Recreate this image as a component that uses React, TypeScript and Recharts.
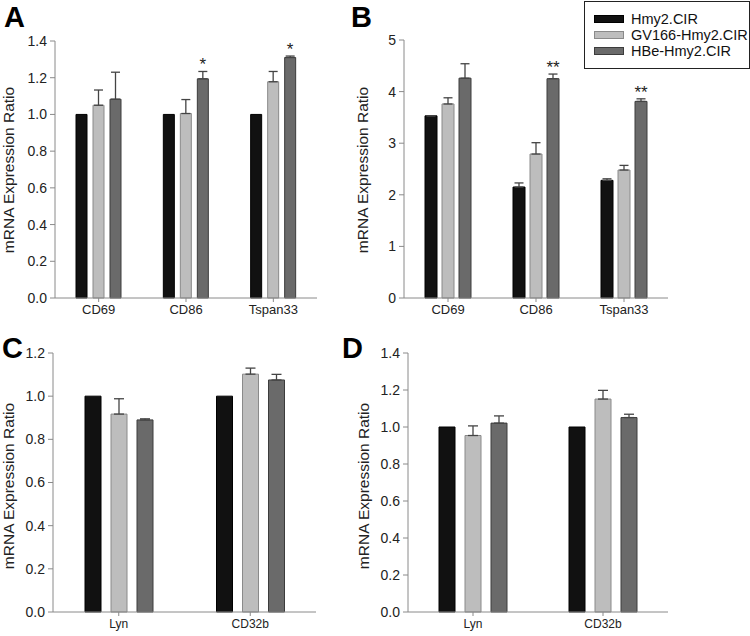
import React from 'react';
import { BarChart, Bar, XAxis, YAxis, ErrorBar, LabelList, Legend } from 'recharts';

const seriesNames = ['Hmy2.CIR', 'GV166-Hmy2.CIR', 'HBe-Hmy2.CIR'];
const fills = ['#111111', '#bdbdbd', '#6a6a6a'];
const strokes = ['#000000', '#8a8a8a', '#3c3c3c'];

// panel A
const genesA = ['CD69', 'CD86', 'Tspan33'];
const ctrlA = [1.0, 1.0, 1.0];
const gvA = [1.05, 1.005, 1.178];
const gvErrA = [0.083, 0.076, 0.056];
const hbeA = [1.083, 1.194, 1.31];
const hbeErrA = [0.147, 0.04, 0.008];
const starsA = ['', '*', '*'];
const ticksA = [0, 0.2, 0.4, 0.6, 0.8, 1.0, 1.2, 1.4];

// panel B
const genesB = ['CD69', 'CD86', 'Tspan33'];
const ctrlB = [3.53, 2.15, 2.28];
const ctrlErrB = [0, 0.08, 0.03];
const gvB = [3.76, 2.79, 2.48];
const gvErrB = [0.12, 0.22, 0.09];
const hbeB = [4.26, 4.25, 3.81];
const hbeErrB = [0.28, 0.09, 0.05];
const starsB = ['', '**', '**'];
const ticksB = [0, 1, 2, 3, 4, 5];

// panel C
const genesC = ['Lyn', 'CD32b'];
const ctrlC = [1.0, 1.0];
const gvC = [0.917, 1.102];
const gvErrC = [0.071, 0.028];
const hbeC = [0.89, 1.075];
const hbeErrC = [0.005, 0.026];
const ticksC = [0, 0.2, 0.4, 0.6, 0.8, 1.0, 1.2];

// panel D
const genesD = ['Lyn', 'CD32b'];
const ctrlD = [1.0, 1.0];
const gvD = [0.954, 1.151];
const gvErrD = [0.052, 0.047];
const hbeD = [1.021, 1.051];
const hbeErrD = [0.039, 0.018];
const ticksD = [0, 0.2, 0.4, 0.6, 0.8, 1.0, 1.2, 1.4];

type Row = {
  gene: string;
  ctrl: number;
  ctrlErr: number[];
  gv: number;
  gvErr: number[];
  hbe: number;
  hbeErr: number[];
  star: string;
};

const makeRows = (
  genes: string[],
  ctrl: number[],
  gv: number[],
  gvErr: number[],
  hbe: number[],
  hbeErr: number[],
  stars?: string[],
  ctrlErr?: number[]
): Row[] =>
  genes.map((g, i) => ({
    gene: g,
    ctrl: ctrl[i],
    ctrlErr: [0, ctrlErr ? ctrlErr[i] : 0],
    gv: gv[i],
    gvErr: [0, gvErr[i]],
    hbe: hbe[i],
    hbeErr: [0, hbeErr[i]],
    star: stars ? stars[i] : '',
  }));

const rowsA = makeRows(genesA, ctrlA, gvA, gvErrA, hbeA, hbeErrA, starsA);
const rowsB = makeRows(genesB, ctrlB, gvB, gvErrB, hbeB, hbeErrB, starsB, ctrlErrB);
const rowsC = makeRows(genesC, ctrlC, gvC, gvErrC, hbeC, hbeErrC);
const rowsD = makeRows(genesD, ctrlD, gvD, gvErrD, hbeD, hbeErrD);

const FONT = '"Liberation Sans", Arial, Helvetica, sans-serif';
const AXIS = '#8a8a8a';

// stars sit just above the error bar cap of the HBe bar
const starLabel = (rows: Row[]) => (props: any) => {
  const vb = props.viewBox || props;
  const x = props.x ?? vb.x;
  const y = props.y ?? vb.y;
  const width = props.width ?? vb.width;
  const height = props.height ?? vb.height;
  const r = rows[props.index];
  if (!r || !r.star) return null;
  const px = height / r.hbe;
  const top = y - r.hbeErr[1] * px;
  return (
    <text x={x + width / 2} y={top - 1} textAnchor="middle" fontSize={17} fill="#222" fontFamily={FONT}>
      {r.star}
    </text>
  );
};

const renderLegend = () => (
  <div
    style={{
      position: 'relative',
      width: 166,
      height: 68,
      border: '1px solid #222',
      boxSizing: 'border-box',
      background: '#fff',
      fontFamily: FONT,
    }}
  >
    {seriesNames.map((name, i) => (
      <div
        key={name}
        style={{ position: 'absolute', left: 9, top: 9 + i * 16, height: 16, display: 'flex', alignItems: 'center' }}
      >
        <span
          style={{
            display: 'inline-block',
            width: 30,
            height: 8,
            background: fills[i],
            border: `1px solid ${strokes[i]}`,
            boxSizing: 'border-box',
          }}
        />
        <span style={{ marginLeft: 7, fontSize: 14.5, color: '#111', whiteSpace: 'nowrap' }}>{name}</span>
      </div>
    ))}
  </div>
);

type PanelProps = {
  rows: Row[];
  box: { x0: number; x1: number; y0: number; y1: number };
  top: number;
  ticks: number[];
  digits: number;
  barSize: number;
  barGap: number;
  capW: number;
  tickFont: number;
  ctrlError?: boolean;
  legend?: boolean;
};

const Panel = ({ rows, box, top, ticks, digits, barSize, barGap, capW, tickFont, ctrlError, legend }: PanelProps) => {
  const yw = 50;
  const xh = 28;
  const left = box.x0 - yw;
  const width = box.x1 - left + 2;
  const mt = box.y0 - top;
  const height = box.y1 + xh - top;
  return (
    <div style={{ position: 'absolute', left, top }}>
      <BarChart
        width={width}
        height={height}
        data={rows}
        margin={{ top: mt, right: 2, bottom: 0, left: 0 }}
        barSize={barSize}
        barGap={barGap}
      >
        <XAxis
          dataKey="gene"
          height={xh}
          stroke={AXIS}
          tickSize={4}
          tickMargin={3}
          tick={{ fill: '#222', fontSize: tickFont, fontFamily: FONT }}
        />
        <YAxis
          width={yw}
          domain={[0, ticks[ticks.length - 1]]}
          ticks={ticks}
          interval={0}
          tickFormatter={(v: number) => v.toFixed(digits)}
          stroke={AXIS}
          tickSize={5}
          tickMargin={3}
          tick={{ fill: '#222', fontSize: 14, fontFamily: FONT }}
        />
        {legend && (
          <Legend
            layout="horizontal"
            verticalAlign="middle"
            align="center"
            content={renderLegend}
            wrapperStyle={{ left: 584 - left, top: 1, width: 166, height: 68 }}
          />
        )}
        <Bar dataKey="ctrl" name={seriesNames[0]} fill={fills[0]} stroke={strokes[0]} isAnimationActive={false}>
          {ctrlError && <ErrorBar dataKey="ctrlErr" direction="y" width={capW} stroke="#444" strokeWidth={1.3} />}
        </Bar>
        <Bar dataKey="gv" name={seriesNames[1]} fill={fills[1]} stroke={strokes[1]} isAnimationActive={false}>
          <ErrorBar dataKey="gvErr" direction="y" width={capW} stroke="#444" strokeWidth={1.3} />
        </Bar>
        <Bar dataKey="hbe" name={seriesNames[2]} fill={fills[2]} stroke={strokes[2]} isAnimationActive={false}>
          <ErrorBar dataKey="hbeErr" direction="y" width={capW} stroke="#444" strokeWidth={1.3} />
          <LabelList dataKey="star" content={starLabel(rows)} />
        </Bar>
      </BarChart>
    </div>
  );
};

const AxisTitle = ({ cx, cy }: { cx: number; cy: number }) => (
  <div
    style={{
      position: 'absolute',
      left: cx,
      top: cy,
      transform: 'translate(-50%, -50%) rotate(-90deg)',
      whiteSpace: 'nowrap',
      fontSize: 15.5,
      color: '#222',
      fontFamily: FONT,
    }}
  >
    mRNA Expression Ratio
  </div>
);

const Letter = ({ x, y, t }: { x: number; y: number; t: string }) => (
  <div
    style={{
      position: 'absolute',
      left: x,
      top: y,
      fontSize: 29,
      lineHeight: 1,
      fontWeight: 'bold',
      color: '#000',
      fontFamily: FONT,
    }}
  >
    {t}
  </div>
);

export default function App() {
  return (
    <div
      style={{
        position: 'absolute',
        left: 0,
        top: 0,
        width: 750,
        height: 636,
        background: '#fff',
        overflow: 'hidden',
        fontFamily: FONT,
      }}
    >
      <Panel rows={rowsA} box={{ x0: 55, x1: 317, y0: 41, y1: 298 }} top={0} ticks={ticksA} digits={1}
        barSize={11} barGap={6} capW={4.5} tickFont={13} />
      <Panel rows={rowsB} box={{ x0: 404, x1: 668, y0: 40, y1: 298 }} top={0} ticks={ticksB} digits={0}
        barSize={12} barGap={5} capW={4.5} tickFont={13} ctrlError legend />
      <Panel rows={rowsC} box={{ x0: 53, x1: 316, y0: 353, y1: 612 }} top={320} ticks={ticksC} digits={1}
        barSize={16} barGap={10} capW={5} tickFont={12} />
      <Panel rows={rowsD} box={{ x0: 408, x1: 668, y0: 353, y1: 612 }} top={320} ticks={ticksD} digits={1}
        barSize={16} barGap={10} capW={5} tickFont={12} />

      <AxisTitle cx={9} cy={170} />
      <AxisTitle cx={363} cy={170} />
      <AxisTitle cx={9} cy={486} />
      <AxisTitle cx={364} cy={486} />

      <Letter x={4} y={3} t="A" />
      <Letter x={351} y={3} t="B" />
      <Letter x={2} y={334} t="C" />
      <Letter x={342} y={334} t="D" />
    </div>
  );
}
